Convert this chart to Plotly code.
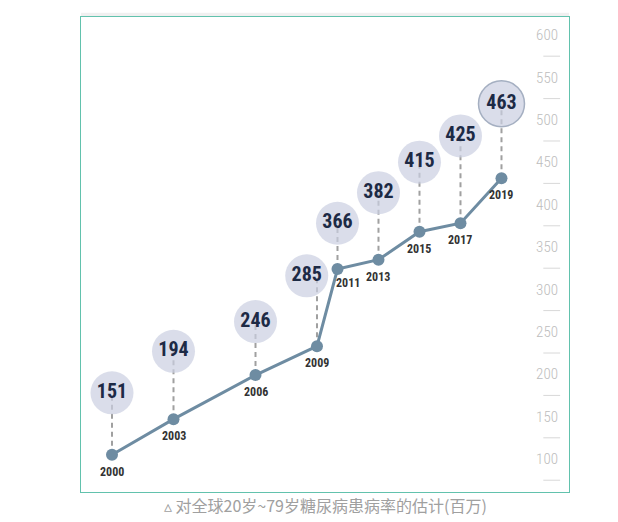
import plotly.graph_objects as go

# ---- data ----
years = ["2000", "2003", "2006", "2009", "2011", "2013", "2015", "2017", "2019"]
x_pos = [2000, 2003, 2007, 2010, 2011, 2013, 2015, 2017, 2019]          # stylised horizontal placement
line_vals = [105, 147, 199, 233, 324, 335, 368, 378, 431]                # height of the dots on the axis
labels = [151, 194, 246, 285, 366, 382, 415, 425, 463]                   # bubble numbers (millions)
bubble_x = [2000, 2003, 2007, 2009.5, 2011, 2013, 2015, 2017, 2019]
bubble_y = [178, 227, 262, 316, 378, 414, 450, 481, 519]
axis_ticks = [100, 150, 200, 250, 300, 350, 400, 450, 500, 550, 600]
axis_dashes = [75, 125, 175, 225, 275, 325, 375, 425, 475, 525, 575]
caption = "▵ 对全球20岁~79岁糖尿病患病率的估计(百万)"

NARROW = "Roboto Condensed, Liberation Sans Narrow, Roboto, sans-serif"
LINE_C = "#6e8ca2"
BUBBLE_C = "#cbd0e2"

fig = go.Figure()

# dashed connectors
dx, dy = [], []
for xp, lv, by in zip(x_pos, line_vals, bubble_y):
    dx += [xp, xp, None]
    dy += [lv, by, None]
fig.add_trace(go.Scatter(x=dx, y=dy, mode="lines",
                         line=dict(color="#a0a0a0", width=2, dash="5px,4px"),
                         hoverinfo="skip", showlegend=False))

# axis dashes between tick labels
fig.add_trace(go.Scatter(x=[2021.45] * len(axis_dashes), y=axis_dashes, mode="markers",
                         marker=dict(symbol="line-ew", size=12,
                                     line=dict(color="#d8d8d8", width=1)),
                         hoverinfo="skip", showlegend=False))

# bubbles
sizes = [43] * (len(labels) - 1) + [46]
outline = ["rgba(0,0,0,0)"] * (len(labels) - 1) + ["#7f8ea8"]
fig.add_trace(go.Scatter(x=bubble_x, y=bubble_y, mode="markers+text",
                         text=[f"<b>{v}</b>" for v in labels],
                         textposition="middle center",
                         textfont=dict(family=NARROW, size=20, color="#1d2a45"),
                         marker=dict(size=sizes, color=BUBBLE_C,
                                     line=dict(color=outline, width=1.5)),
                         hoverinfo="skip", showlegend=False))

# main line
fig.add_trace(go.Scatter(x=x_pos, y=line_vals, mode="lines+markers",
                         line=dict(color=LINE_C, width=3),
                         marker=dict(size=12, color=LINE_C),
                         showlegend=False))

# year labels
for yr, xp, lv in zip(years, x_pos, line_vals):
    shift = (11, -14) if yr == "2011" else (0, -17)
    fig.add_annotation(x=xp, y=lv, text=f"<b>{yr}</b>", showarrow=False,
                       xshift=shift[0], yshift=shift[1],
                       font=dict(family=NARROW, size=12, color="#333333"))

fig.add_annotation(x=0.5, xref="paper", y=-0.027, yref="paper", yanchor="middle",
                   text=caption, showarrow=False,
                   font=dict(family="Noto Sans CJK SC, sans-serif", size=16, color="#a0a0a0"))

# faint shadow above the frame
fig.add_shape(type="line", xref="paper", yref="paper", x0=0, x1=1,
              y0=1.005, y1=1.005, line=dict(color="rgba(0,0,0,0.06)", width=4),
              layer="below")

fig.update_layout(
    width=610, height=514,
    margin=dict(l=73, r=49, t=9, b=30),
    paper_bgcolor="white", plot_bgcolor="white",
    xaxis=dict(range=[1998.488, 2022.293], showgrid=False, zeroline=False,
               showticklabels=False, ticks="", showline=True, mirror=True,
               linecolor="#62c2ad", linewidth=1),
    yaxis=dict(range=[61.1, 621.2], side="right", tickvals=axis_ticks,
               ticklabelposition="inside", ticklabelstandoff=11,
               tickfont=dict(family=NARROW, size=15, color="#bdbdbd", weight=300),
               showgrid=False, zeroline=False, ticks="", showline=True, mirror=True,
               linecolor="#62c2ad", linewidth=1),
)

fig.write_html("out.html")
